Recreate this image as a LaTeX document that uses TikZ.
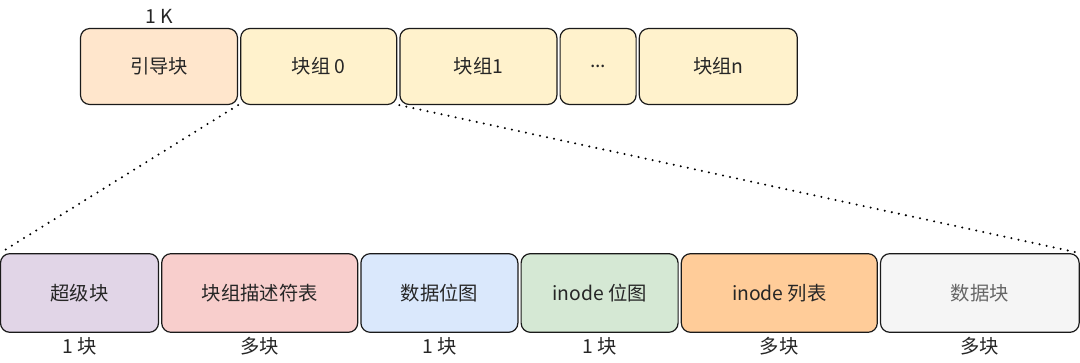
\documentclass[tikz,border=0pt]{standalone}
\usepackage{fontspec}
\setmainfont{Noto Sans CJK SC}
\usepackage{tikz}
\usetikzlibrary{positioning, calc}
\definecolor{bootfill}{HTML}{FFE6CC}
\definecolor{groupfill}{HTML}{FFF2CC}
\definecolor{superfill}{HTML}{E1D5E7}
\definecolor{descfill}{HTML}{F8CECC}
\definecolor{bitmapfill}{HTML}{DAE8FC}
\definecolor{inobitfill}{HTML}{D5E8D4}
\definecolor{inolistfill}{HTML}{FFCC99}
\definecolor{datafill}{HTML}{F5F5F5}
\definecolor{greytext}{HTML}{666666}
\definecolor{darktext}{HTML}{262626}
\definecolor{edgeline}{HTML}{1A1A1A}

\begin{document}
\begin{tikzpicture}[x=0.75pt, y=0.75pt, node distance=1.5pt,
        block/.style={rectangle, draw=edgeline, line width=0.9pt, rounded corners=7pt, text=darktext, minimum height=57pt, font=\fontsize{14.5}{16}\selectfont, inner sep=0pt},
        lowblock/.style={block, minimum height=59pt},
        note/.style={font=\fontsize{14.5}{16}\selectfont, text=darktext},
        link/.style={draw, line width=1.7pt, line cap=round, dash pattern=on 0pt off 5.4pt}]

        \useasboundingbox (0,0) rectangle (1080,363);

        % Top row - disk layout
        \node [block, fill=bootfill, minimum width=117.75pt] (boot) at (159,296.5) {引导块};
        \node [block, fill=groupfill, minimum width=117pt, right=of boot] (bg0) {块组 0};
        \node [block, fill=groupfill, minimum width=117.75pt, right=of bg0] (bg1) {块组1};
        \node [block, fill=groupfill, minimum width=57pt, right=of bg1] (bgdots) {...};
        \node [block, fill=groupfill, minimum width=118.5pt, right=of bgdots] (bgn) {块组n};

        \node [note, above=0pt of boot] (size) {1 K};

        % Bottom row - one block group
        \node [lowblock, fill=superfill, minimum width=118.5pt] (super) at (79.5,70) {超级块};
        \node [lowblock, fill=descfill, minimum width=147pt, right=of super] (desc) {块组描述符表};
        \node [lowblock, fill=bitmapfill, minimum width=117.75pt, right=of desc] (bitmap) {数据位图};
        \node [lowblock, fill=inobitfill, minimum width=117.75pt, right=of bitmap] (inobit) {inode 位图};
        \node [lowblock, fill=inolistfill, minimum width=147pt, right=of inobit] (inolist) {inode 列表};
        \node [lowblock, fill=datafill, text=greytext, minimum width=149pt, right=of inolist] (data) {数据块};

        % Counts
        \node [note, below=0pt of super] (nsuper) {1 块};
        \node [note, below=0pt of desc] (ndesc) {多块};
        \node [note, below=0pt of bitmap] (nbitmap) {1 块};
        \node [note, below=0pt of inobit] (ninobit) {1 块};
        \node [note, below=0pt of inolist] (ninolist) {多块};
        \node [note, below=0pt of data] (ndata) {多块};

        % Zoom lines
        \path [link] (boot.south east) -- (super.north west);
        \path [link] (bg1.south west) -- (data.north east);
    \end{tikzpicture}
\end{document}
